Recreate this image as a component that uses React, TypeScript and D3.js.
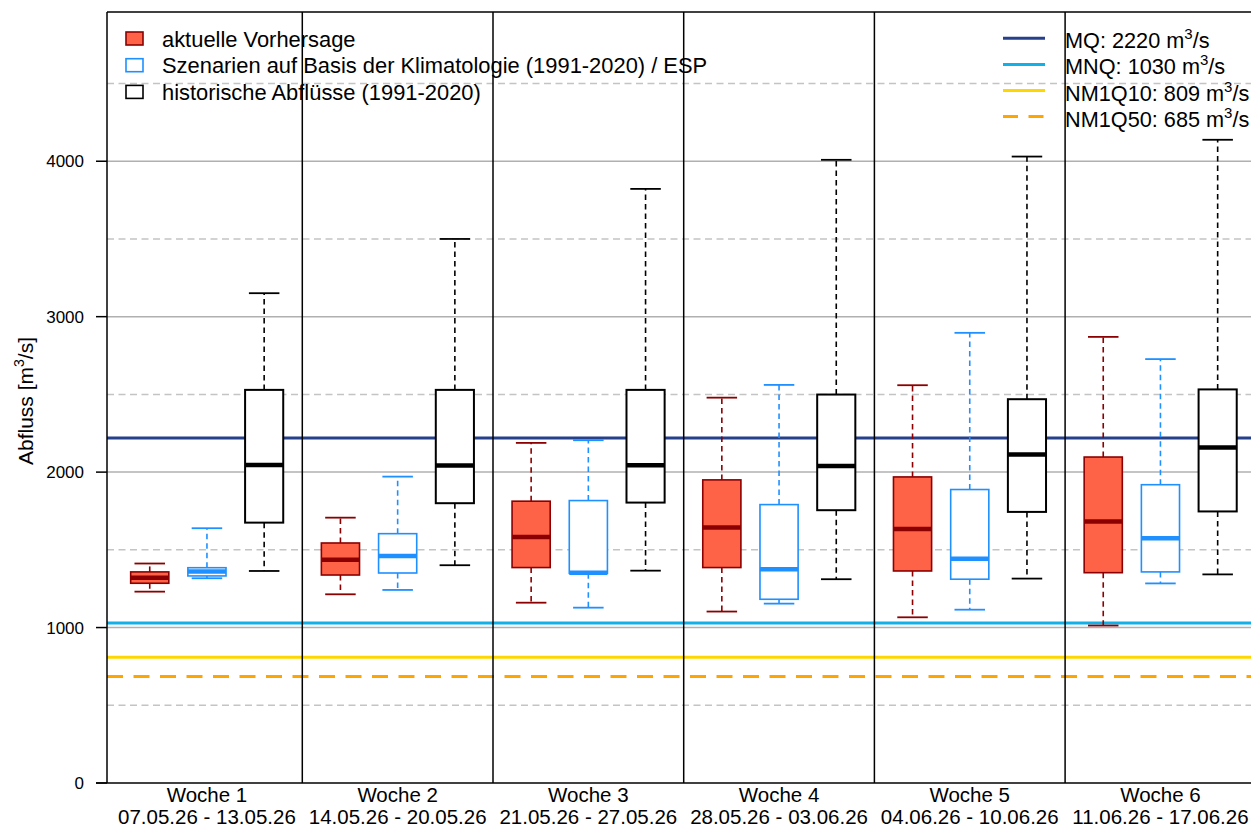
import React from "react";
import * as d3 from "d3";

const weeks = ["Woche 1", "Woche 2", "Woche 3", "Woche 4", "Woche 5", "Woche 6"];
const dateRanges = [
  "07.05.26 - 13.05.26",
  "14.05.26 - 20.05.26",
  "21.05.26 - 27.05.26",
  "28.05.26 - 03.06.26",
  "04.06.26 - 10.06.26",
  "11.06.26 - 17.06.26",
];
const seriesKeys = ["forecast", "esp", "hist"];

// aktuelle Vorhersage
const forecastMin = [1231, 1214, 1160, 1103, 1066, 1013];
const forecastQ1 = [1285, 1338, 1386, 1386, 1364, 1353];
const forecastMed = [1320, 1437, 1583, 1643, 1634, 1682];
const forecastQ3 = [1358, 1544, 1813, 1950, 1969, 2097];
const forecastMax = [1412, 1707, 2188, 2479, 2559, 2870];

// Szenarien ESP
const espMin = [1317, 1242, 1128, 1154, 1115, 1284];
const espQ1 = [1332, 1351, 1349, 1182, 1311, 1358];
const espMed = [1360, 1461, 1353, 1375, 1443, 1574];
const espQ3 = [1385, 1604, 1817, 1791, 1888, 1919];
const espMax = [1639, 1971, 2205, 2561, 2896, 2727];

// historische Abflüsse
const histMin = [1364, 1401, 1366, 1311, 1315, 1342];
const histQ1 = [1675, 1800, 1804, 1755, 1744, 1747];
const histMed = [2046, 2042, 2044, 2040, 2113, 2159];
const histQ3 = [2529, 2529, 2529, 2499, 2469, 2532];
const histMax = [3151, 3500, 3822, 4009, 4030, 4138];

const yTicks = [0, 1000, 2000, 3000, 4000];
const gridSolid = [1000, 2000, 3000, 4000];
const gridDashed = [500, 1500, 2500, 3500, 4500];

const refNames = ["MQ", "MNQ", "NM1Q10", "NM1Q50"];
const refValues = [2220, 1030, 809, 685];
const refColors = ["#27408B", "#12B0E8", "#FFD700", "#FFA500"];
const refDash = [null, null, null, "16,10.5"];

const legendLabels = [
  "aktuelle Vorhersage",
  "Szenarien auf Basis der Klimatologie (1991-2020) / ESP",
  "historische Abflüsse (1991-2020)",
];

const seriesStyle: Record<string, { fill: string; stroke: string; bw: number }> = {
  forecast: { fill: "#FF6347", stroke: "#8B0000", bw: 1.6 },
  esp: { fill: "#FFFFFF", stroke: "#1E90FF", bw: 1.6 },
  hist: { fill: "#FFFFFF", stroke: "#000000", bw: 2 },
};

const W = 1251;
const H = 829;
const plotL = 107;
const plotR = 1260;
const plotT = 12;
const plotB = 783;
const FONT = "'Liberation Sans', Arial, Helvetica, sans-serif";

export default function App() {
  const y = d3.scaleLinear().domain([0, 4960]).range([plotB, plotT]);
  const xWeek = d3.scaleBand<string>().domain(weeks).range([111.6, 1255.8]).padding(0);
  const bw = xWeek.bandwidth();
  const xInner = d3.scalePoint<string>().domain(seriesKeys).range([bw * 0.2, bw * 0.8]);
  const boxW = bw * 0.2;
  const capW = boxW * 0.8;

  const stats: Record<string, number[][]> = {
    forecast: [forecastMin, forecastQ1, forecastMed, forecastQ3, forecastMax],
    esp: [espMin, espQ1, espMed, espQ3, espMax],
    hist: [histMin, histQ1, histMed, histQ3, histMax],
  };

  const boxes: React.ReactNode[] = [];
  weeks.forEach((wk, i) => {
    seriesKeys.forEach((k) => {
      const [mn, q1, md, q3, mx] = stats[k].map((a) => a[i]);
      const cx = (xWeek(wk) as number) + (xInner(k) as number);
      const st = seriesStyle[k];
      boxes.push(
        <g key={wk + k}>
          <line x1={cx} x2={cx} y1={y(q3)} y2={y(mx)} stroke={st.stroke} strokeWidth={1.6} strokeDasharray="5.5,4" />
          <line x1={cx} x2={cx} y1={y(q1)} y2={y(mn)} stroke={st.stroke} strokeWidth={1.6} strokeDasharray="5.5,4" />
          <line x1={cx - capW / 2} x2={cx + capW / 2} y1={y(mx)} y2={y(mx)} stroke={st.stroke} strokeWidth={1.8} />
          <line x1={cx - capW / 2} x2={cx + capW / 2} y1={y(mn)} y2={y(mn)} stroke={st.stroke} strokeWidth={1.8} />
          <rect x={cx - boxW / 2} y={y(q3)} width={boxW} height={y(q1) - y(q3)} fill={st.fill} stroke={st.stroke} strokeWidth={st.bw} />
          <line x1={cx - boxW / 2} x2={cx + boxW / 2} y1={y(md)} y2={y(md)} stroke={st.stroke} strokeWidth={4.5} />
        </g>
      );
    });
  });

  const sup = (label: string, value: number) => (
    <>
      {`${label}: ${value} m`}
      <tspan dy={-9} fontSize={15}>3</tspan>
      <tspan dy={9}>/s</tspan>
    </>
  );

  return (
    <svg width={W} height={H} style={{ position: "absolute", left: 0, top: 0, background: "#fff" }} fontFamily={FONT}>
      <defs>
        <clipPath id="plotclip">
          <rect x={plotL} y={plotT} width={plotR - plotL} height={plotB - plotT} />
        </clipPath>
      </defs>
      <g clipPath="url(#plotclip)">
        {gridDashed.map((v) => (
          <line key={"gd" + v} x1={plotL} x2={plotR} y1={y(v)} y2={y(v)} stroke="#C4C4C4" strokeWidth={1.5} strokeDasharray="7,4.5" />
        ))}
        {gridSolid.map((v) => (
          <line key={"gs" + v} x1={plotL} x2={plotR} y1={y(v)} y2={y(v)} stroke="#B0B0B0" strokeWidth={1.5} />
        ))}
        {refValues.map((v, i) => (
          <line key={"r" + i} x1={plotL} x2={plotR} y1={y(v)} y2={y(v)} stroke={refColors[i]} strokeWidth={3}
            strokeDasharray={refDash[i] ?? undefined} />
        ))}
        {weeks.slice(1).map((wk) => (
          <line key={"sep" + wk} x1={xWeek(wk)} x2={xWeek(wk)} y1={plotT} y2={plotB} stroke="#000" strokeWidth={1.5} />
        ))}
        {boxes}
      </g>

      {/* frame */}
      <line x1={plotL} x2={plotL} y1={plotT} y2={plotB} stroke="#000" strokeWidth={1.5} />
      <line x1={plotL} x2={plotR} y1={plotT} y2={plotT} stroke="#000" strokeWidth={1.5} />
      <line x1={plotL - 11} x2={plotR} y1={plotB} y2={plotB} stroke="#000" strokeWidth={1.5} />
      <line x1={plotR} x2={plotR} y1={plotT} y2={plotB} stroke="#000" strokeWidth={1.5} />

      {/* y axis */}
      {yTicks.map((v) => (
        <g key={"yt" + v}>
          <line x1={plotL - 11} x2={plotL} y1={y(v)} y2={y(v)} stroke="#000" strokeWidth={1.5} />
          <text x={84} y={y(v) + 6} textAnchor="end" fontSize={17} fill="#000">{v}</text>
        </g>
      ))}
      <text transform={`translate(33,401) rotate(-90)`} textAnchor="middle" fontSize={21} fill="#000">
        Abfluss [m<tspan dy={-9} fontSize={14}>3</tspan><tspan dy={9}>/s]</tspan>
      </text>

      {/* x labels */}
      {weeks.map((wk, i) => {
        const cx = (xWeek(wk) as number) + bw / 2;
        return (
          <g key={"xl" + wk}>
            <text x={cx} y={802} textAnchor="middle" fontSize={20.5} fill="#000">{wk}</text>
            <text x={cx} y={824} textAnchor="middle" fontSize={20.5} fill="#000">{dateRanges[i]}</text>
          </g>
        );
      })}

      {/* left legend */}
      {seriesKeys.map((k, i) => {
        const cy = 38.5 + i * 26.7;
        const st = seriesStyle[k];
        return (
          <g key={"lg" + k}>
            <rect x={126} y={cy - 6.5} width={17} height={13} fill={st.fill} stroke={st.stroke} strokeWidth={1.6} />
            <text x={162} y={cy + 8} fontSize={21.9} fill="#000">{legendLabels[i]}</text>
          </g>
        );
      })}

      {/* right legend */}
      {refNames.map((n, i) => {
        const cy = 38.3 + i * 26.1;
        return (
          <g key={"rl" + n}>
            <line x1={1003} x2={1045} y1={cy} y2={cy} stroke={refColors[i]} strokeWidth={3}
              strokeDasharray={refDash[i] ? "15,10.5" : undefined} />
            <text x={1065} y={cy + 10} fontSize={21.7} fill="#000">{sup(n, refValues[i])}</text>
          </g>
        );
      })}
    </svg>
  );
}
